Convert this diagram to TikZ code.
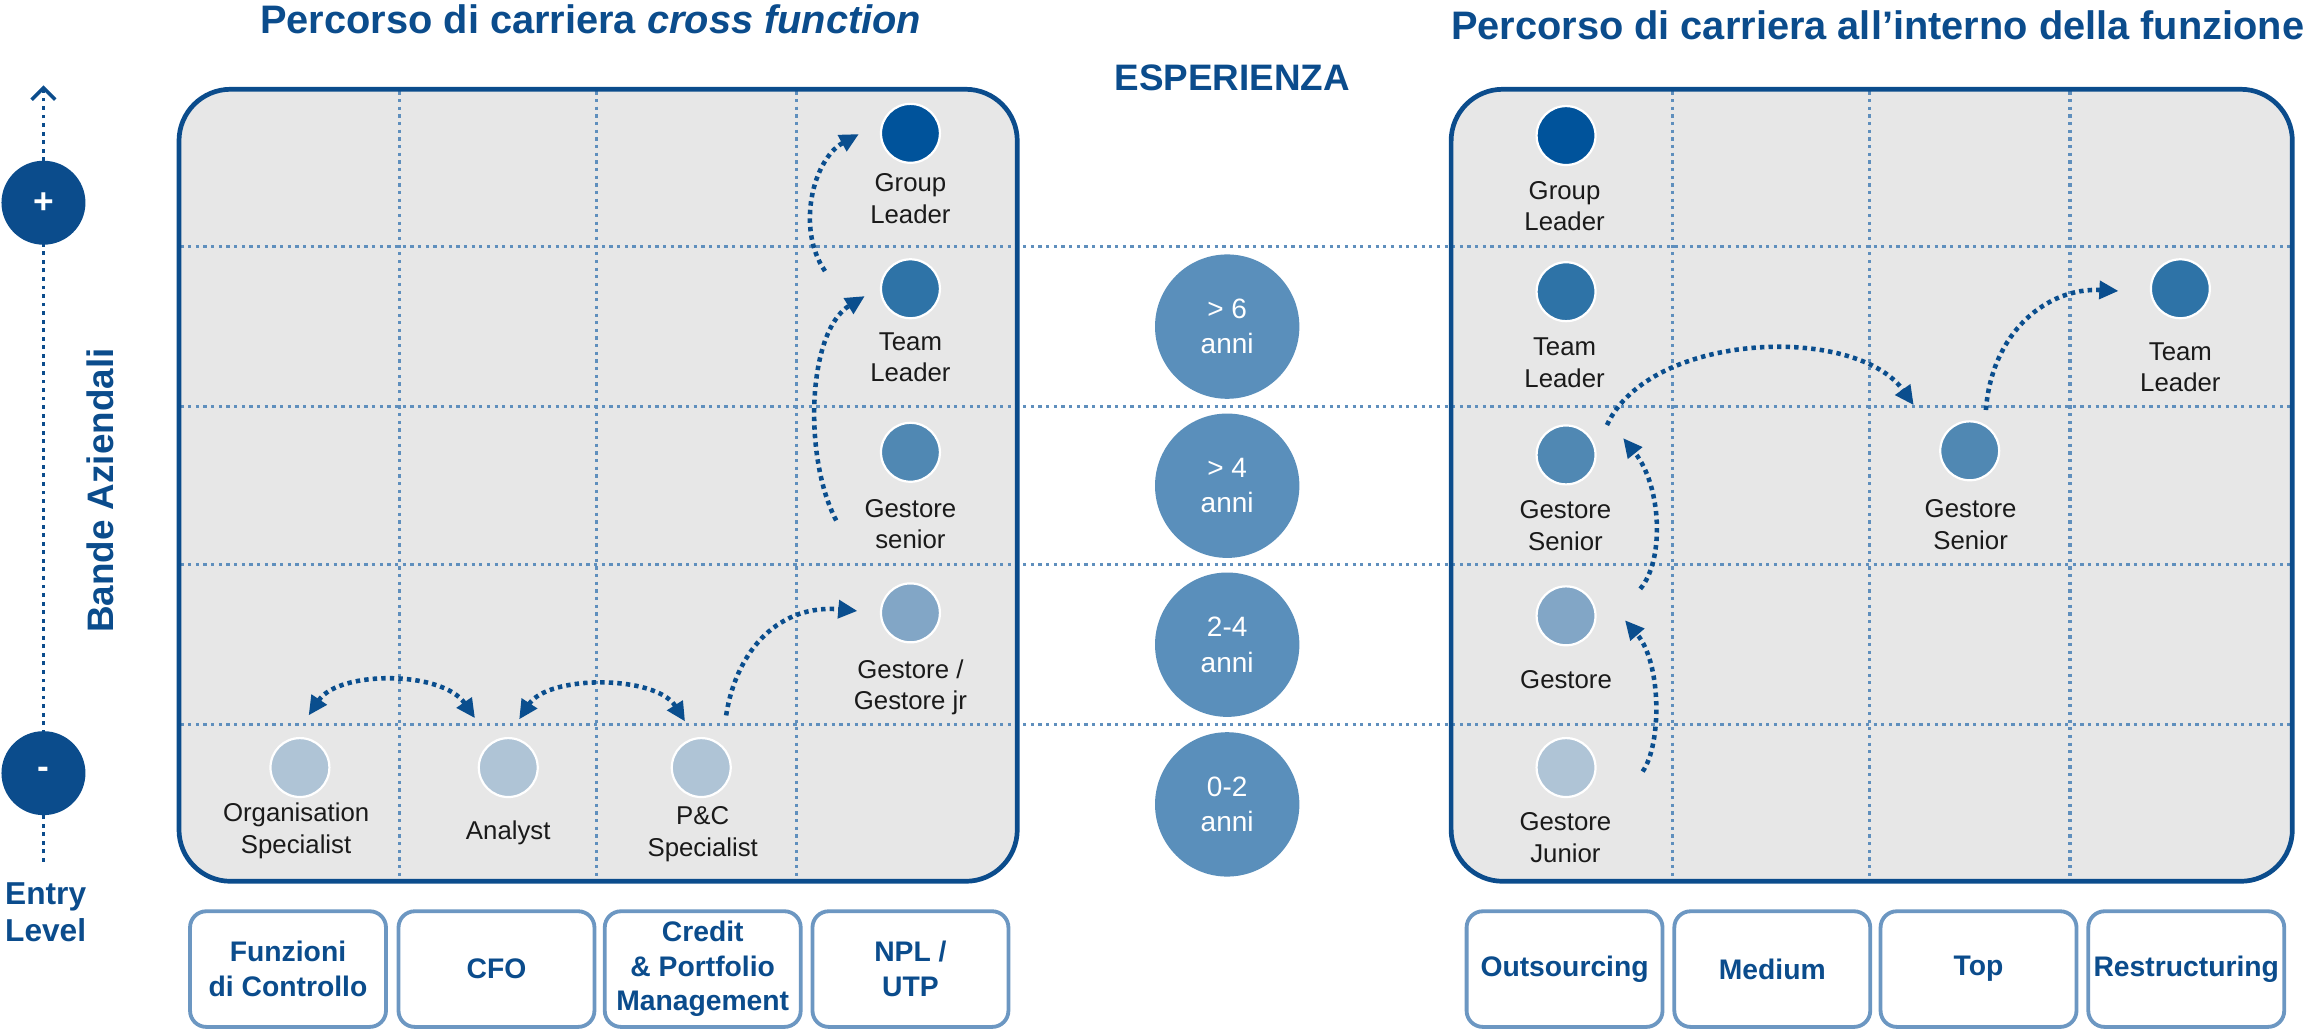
\documentclass[tikz,border=0pt]{standalone}
\usepackage{fontspec}
\setmainfont{Liberation Sans}
\usetikzlibrary{arrows.meta}
\definecolor{dblue}{HTML}{0B4C8C}
\definecolor{gridc}{HTML}{5F8FBD}
\definecolor{panelfill}{HTML}{E7E7E7}
\definecolor{boxc}{HTML}{6C97C2}
\definecolor{expc}{HTML}{5A8FBB}
\definecolor{lvA}{HTML}{00539B}
\definecolor{lvB}{HTML}{2E73A7}
\definecolor{lvC}{HTML}{5088B3}
\definecolor{lvD}{HTML}{82A6C6}
\definecolor{lvE}{HTML}{AFC4D6}
\definecolor{arrc}{HTML}{0A4E8E}
\definecolor{txt}{HTML}{1A1A1A}
\begin{document}
\begin{tikzpicture}[x=1pt,y=-1pt,
  dotnode/.style={circle, draw=white, line width=1.5pt, minimum size=40pt, inner sep=0pt},
  lbl/.style={align=center, font=\fontsize{17.5}{21.5}\selectfont, text=txt, inner sep=0pt},
  expnode/.style={circle, fill=expc, minimum size=98pt, inner sep=0pt, align=center, text=white, font=\fontsize{19}{24}\selectfont},
  gridline/.style={gridc, line width=2.2pt, dash pattern=on 2.2pt off 3pt},
  flow/.style={arrc, line width=3.1pt, dash pattern=on 3pt off 2.8pt, -{Triangle[length=13pt,width=12pt]}},
  flowboth/.style={arrc, line width=3.1pt, dash pattern=on 3pt off 2.8pt, {Triangle[length=13pt,width=12pt]}-{Triangle[length=13pt,width=12pt]}},
  catbox/.style={draw=boxc, line width=2.6pt, rounded corners=11pt, fill=white, minimum width=133pt, minimum height=78.5pt, align=center, font=\bfseries\fontsize{19.2}{23.5}\selectfont, text=dblue, inner sep=0pt},
  pm/.style={circle, fill=dblue, minimum size=57pt, inner sep=0pt, text=white, font=\bfseries\fontsize{24}{24}\selectfont},
  paneledge/.style={draw=dblue, line width=3.2pt, rounded corners=35pt}
]
\useasboundingbox (0,0) rectangle (1568,699);

% titles
\node[font=\bfseries\fontsize{27}{32}\selectfont, text=dblue] (t1) at (401,13) {Percorso di carriera \textit{cross function}};
\node[font=\bfseries\fontsize{27}{32}\selectfont, text=dblue] (t2) at (1274.5,17) {Percorso di carriera all’interno della funzione};
\node[font=\bfseries\fontsize{25}{30}\selectfont, text=dblue] (esp) at (836.5,53) {ESPERIENZA};

% vertical axis
\coordinate (axBot) at (29.5,585);
\coordinate (axTop) at (29.5,58);
\draw[dblue, line width=2.6pt, dash pattern=on 2.6pt off 3.2pt, -{Straight Barb[length=8pt,width=16pt,line width=2.4pt]}] (axBot) -- (axTop);
\node[pm] (plus) at (29.5,137.6) {+};
\node[pm] (minus) at (29.5,524.8) {-};
\node[rotate=90, font=\bfseries\fontsize{25}{30}\selectfont, text=dblue] (bande) at (68,333) {Bande Aziendali};
\node[align=center, font=\bfseries\fontsize{21.5}{25}\selectfont, text=dblue, inner sep=0pt] (entry) at (31,619) {Entry\\Level};

% panels (fill)
\fill[panelfill, rounded corners=35pt] (121.5,60.6) rectangle (690.5,598.2);
\fill[panelfill, rounded corners=35pt] (985,60.6) rectangle (1556,598.2);

% grid
\foreach \gx in {271,404.8,540.5,1135.4,1269,1405}
  \draw[gridline] (\gx,62) -- (\gx,597);
\foreach \gy in {167.4,276.1,383.3,491.9}
  \draw[gridline] (122.5,\gy) -- (1555,\gy);

% panel borders
\draw[paneledge] (121.5,60.6) rectangle (690.5,598.2);
\draw[paneledge] (985,60.6) rectangle (1556,598.2);

% experience circles
\node[expnode] (e6) at (833,221.7) {> 6\\anni};
\node[expnode] (e4) at (833,329.7) {> 4\\anni};
\node[expnode] (e24) at (833,437.6) {2-4\\anni};
\node[expnode] (e02) at (833,546) {0-2\\anni};

% left panel nodes
\node[dotnode, fill=lvA] (cGL) at (618,90.5) {};
\node[lbl] (lGL) at (618,135) {Group\\Leader};
\node[dotnode, fill=lvB] (cTL) at (618,196) {};
\node[lbl] (lTL) at (618,242.5) {Team\\Leader};
\node[dotnode, fill=lvC] (cGS) at (618,307) {};
\node[lbl] (lGS) at (618,355.8) {Gestore\\senior};
\node[dotnode, fill=lvD] (cGJ) at (618,416) {};
\node[lbl] (lGJ) at (618,466.5) {Gestore /\\Gestore jr};
\node[dotnode, fill=lvE] (cOrg) at (203.6,521) {};
\node[lbl] (lOrg) at (201,564) {Organisation\\Specialist};
\node[dotnode, fill=lvE] (cAn) at (345,521) {};
\node[lbl] (lAn) at (345,565.5) {Analyst};
\node[dotnode, fill=lvE] (cPC) at (476,521) {};
\node[lbl] (lPC) at (477,566) {P\&C\\Specialist};

% right panel nodes
\node[dotnode, fill=lvA] (rGL) at (1063,92) {};
\node[lbl] (lrGL) at (1062,140) {Group\\Leader};
\node[dotnode, fill=lvB] (rTL) at (1063,198) {};
\node[lbl] (lrTL) at (1062,246.3) {Team\\Leader};
\node[dotnode, fill=lvC] (rGS) at (1063,308.8) {};
\node[lbl] (lrGS) at (1062.6,356.6) {Gestore\\Senior};
\node[dotnode, fill=lvD] (rG) at (1063,418) {};
\node[lbl] (lrG) at (1063,461.6) {Gestore};
\node[dotnode, fill=lvE] (rGJ) at (1063,521) {};
\node[lbl] (lrGJ) at (1062.6,568.5) {Gestore\\Junior};
\node[dotnode, fill=lvC] (rGS2) at (1337,306) {};
\node[lbl] (lrGS2) at (1337.6,356) {Gestore\\Senior};
\node[dotnode, fill=lvB] (rTL2) at (1480,196) {};
\node[lbl] (lrTL2) at (1480,249.3) {Team\\Leader};

% arrows left
\coordinate (a1s) at (560,184); \coordinate (a1e) at (583,91);
\draw[flow] (a1s) .. controls (540,155) and (552,108) .. (a1e);
\coordinate (a2s) at (567.6,353.3); \coordinate (a2e) at (587,201);
\draw[flow] (a2s) .. controls (545,310) and (548,225) .. (a2e);
\coordinate (a3s) at (492.9,485.6); \coordinate (a3e) at (582,414.7);
\draw[flow] (a3s) .. controls (500,440) and (530,410) .. (a3e);
\coordinate (a4s) at (209.5,485.6); \coordinate (a4e) at (322.4,487.5);
\draw[flowboth] (a4s) .. controls (230,455) and (300,455) .. (a4e);
\coordinate (a5s) at (352.4,488.3); \coordinate (a5e) at (465,489.7);
\draw[flowboth] (a5s) .. controls (372,458) and (445,458) .. (a5e);

% arrows right
\coordinate (b1s) at (1115,523.7); \coordinate (b1e) at (1103,421);
\draw[flow] (b1s) .. controls (1128,505) and (1128,450) .. (b1e);
\coordinate (b2s) at (1113.4,399.7); \coordinate (b2e) at (1101.8,297.4);
\draw[flow] (b2s) .. controls (1130,380) and (1128,330) .. (b2e);
\coordinate (b3s) at (1090.8,288.5); \coordinate (b3e) at (1299,275);
\draw[flow] (b3s) .. controls (1120,225) and (1260,220) .. (b3e);
\coordinate (b4s) at (1348,278.3); \coordinate (b4e) at (1438,197.5);
\draw[flow] (b4s) .. controls (1352,225) and (1390,195) .. (b4e);

% category boxes
\node[catbox] (k1) at (195.5,657.8) {Funzioni\\di Controllo};
\node[catbox] (k2) at (337,657.8) {CFO};
\node[catbox] (k3) at (477,657.8) {Credit\\\& Portfolio\\Management};
\node[catbox] (k4) at (618,657.8) {NPL /\\UTP};
\node[catbox] (k5) at (1062,657.8) {Outsourcing};
\node[catbox] (k6) at (1203,657.8) {Medium};
\node[catbox] (k7) at (1343,657.8) {Top};
\node[catbox] (k8) at (1484,657.8) {Restructuring};
\end{tikzpicture}
\end{document}
